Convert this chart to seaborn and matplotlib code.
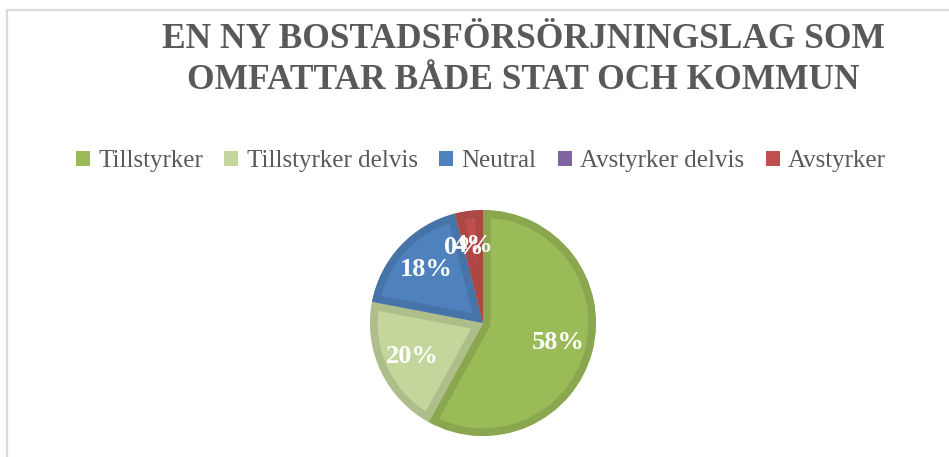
import matplotlib
matplotlib.use("Agg")
import matplotlib.pyplot as plt
import seaborn as sns
from matplotlib.patches import Patch
from matplotlib.lines import Line2D
import matplotlib.colors as mcolors

categories = ["Tillstyrker", "Tillstyrker delvis", "Neutral", "Avstyrker delvis", "Avstyrker"]
values = [58, 20, 18, 0, 4]
fill_colors = ["#9BBB59", "#C3D69B", "#4F81BD", "#8064A2", "#C0504D"]
title_text = "EN NY BOSTADSFÖRSÖRJNINGSLAG SOM\nOMFATTAR BÅDE STAT OCH KOMMUN"

sns.set_style("white")
plt.rcParams["font.family"] = ["Liberation Serif", "DejaVu Serif"]

W, H = 949, 457
fig = plt.figure(figsize=(W / 100, H / 100), dpi=100)
fig.patch.set_facecolor("white")

# pie axes: center (483, 323) px, radius 113 px
cx, cy, r = 483, 323, 113
ax = fig.add_axes([(cx - r) / W, (H - cy - r) / H, 2 * r / W, 2 * r / H])

palette = sns.color_palette(fill_colors)

def darker(c, f=0.89):
    rgb = mcolors.to_rgb(c)
    return tuple(v * f for v in rgb)

wedges, texts, autotexts = ax.pie(
    values,
    colors=palette,
    startangle=90,
    counterclock=False,
    autopct=lambda p: f"{p:.0f}%",
    pctdistance=0.69,
    textprops=dict(color="white", fontsize=19, fontweight="bold"),
)
for w, c, v in zip(wedges, fill_colors, values):
    w.set_edgecolor(darker(c))
    w.set_linewidth(11 if v > 0 else 0)
    w.set_joinstyle("miter")
    w.set_clip_on(True)
    w.set_clip_path(w)
ax.set_xlim(-1, 1)
ax.set_ylim(-1, 1)
ax.set_aspect("equal")
ax.axis("off")

fig.suptitle(title_text, x=523 / W, y=1 - 23 / H, fontsize=25.5, fontweight="bold",
             color="#595959", linespacing=1.32, va="top")

handles = [Patch(facecolor=c, edgecolor="none") for c in fill_colors]
leg = fig.legend(handles, categories, loc="center", bbox_to_anchor=(481 / W, 1 - 161 / H),
                 ncol=5, frameon=False, fontsize=18, handlelength=0.55, handleheight=0.55,
                 handletextpad=0.35, columnspacing=0.85, labelcolor="#595959")

# chart border (light gray frame)
fig.add_artist(Line2D([7 / W, 1], [1 - 10 / H, 1 - 10 / H], color="#d9d9d9", lw=1.6,
                      transform=fig.transFigure))
fig.add_artist(Line2D([7 / W, 7 / W], [0, 1 - 10 / H], color="#d9d9d9", lw=1.6,
                      transform=fig.transFigure))

fig.savefig("out.png", dpi=100)
